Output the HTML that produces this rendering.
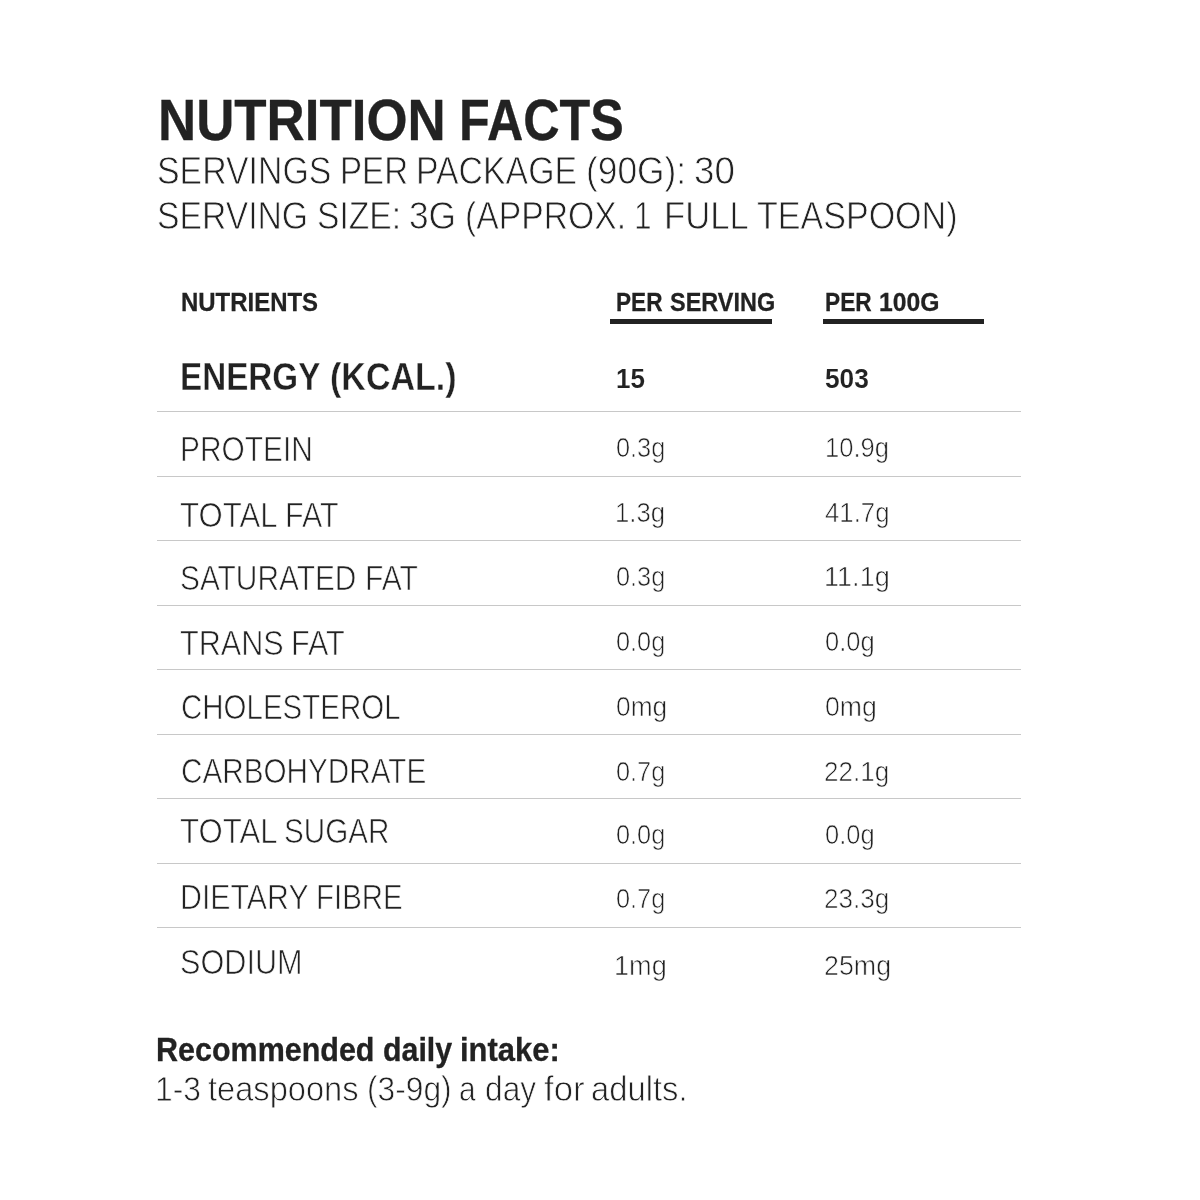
<!DOCTYPE html>
<html lang="en">
<head>
<meta charset="utf-8">
<title>Nutrition Facts</title>
<style>
html,body{margin:0;padding:0;background:#fff;}
body{width:1200px;height:1200px;position:relative;overflow:hidden;font-family:"Liberation Sans",sans-serif;color:#222222;}
.t{position:absolute;left:0;margin:0;padding:0;font-weight:400;white-space:nowrap;}
.t span{position:absolute;top:0;transform-origin:0 0;}
.b{font-weight:700;}
.sub{-webkit-text-stroke:0.83px #fff;}
.n{-webkit-text-stroke:0.74px #fff;}
.v{-webkit-text-stroke:0.66px #fff;}
.fn{-webkit-text-stroke:0.76px #fff;}
.energy{-webkit-text-stroke:0.41px #fff;}
.title{-webkit-text-stroke:0.30px #222222;}
.th{-webkit-text-stroke:0.27px #222222;}
.ev{-webkit-text-stroke:0.10px #fff;}
.fb{-webkit-text-stroke:0.30px #222222;}
.rule{position:absolute;left:157px;width:864px;height:1px;background:#c8c8c8;}
.bar{position:absolute;top:319px;height:5px;background:#222222;}
</style>
</head>
<body>
<header class="head">
<h1 class="t title b" style="top:93.07px;font-size:56.88px;line-height:56.88px"><span style="left:157.52px;transform:scaleX(0.9292)">NUTRITION</span> <span style="left:459.00px;transform:scaleX(0.8838)">FACTS</span></h1>
<p class="t sub" style="top:150.55px;font-size:39.60px;line-height:39.60px"><span style="left:156.95px;transform:scaleX(0.8550)">SERVINGS</span> <span style="left:339.71px;transform:scaleX(0.8370)">PER</span> <span style="left:416.37px;transform:scaleX(0.8546)">PACKAGE</span> <span style="left:585.99px;transform:scaleX(0.8921)">(90G):</span> <span style="left:694.04px;transform:scaleX(0.9276)">30</span></p>
<p class="t sub" style="top:196.35px;font-size:39.60px;line-height:39.60px"><span style="left:157.03px;transform:scaleX(0.8515)">SERVING</span> <span style="left:317.42px;transform:scaleX(0.8492)">SIZE:</span> <span style="left:409.26px;transform:scaleX(0.8913)">3G</span> <span style="left:464.90px;transform:scaleX(0.8516)">(APPROX.</span> <span style="left:633.60px;transform:scaleX(0.7967)">1</span> <span style="left:664.31px;transform:scaleX(0.8758)">FULL</span> <span style="left:757.32px;transform:scaleX(0.8602)">TEASPOON)</span></p>
</header>
<section class="table">
<div class="row thead">
<div class="t th b" style="top:289.08px;font-size:26.10px;line-height:26.10px"><span style="left:180.66px;transform:scaleX(0.9182)">NUTRIENTS</span></div>
<div class="t th b" style="top:289.08px;font-size:26.10px;line-height:26.10px"><span style="left:615.76px;transform:scaleX(0.8665)">PER</span> <span style="left:669.69px;transform:scaleX(0.8989)">SERVING</span></div>
<div class="t th b" style="top:289.08px;font-size:26.10px;line-height:26.10px"><span style="left:824.77px;transform:scaleX(0.8692)">PER</span> <span style="left:878.70px;transform:scaleX(0.9477)">100G</span></div>
<div class="bar" style="left:610px;width:161.5px"></div>
<div class="bar" style="left:822.5px;width:161.5px"></div>
</div>
<div class="row energy-row">
<div class="t energy b" style="top:357.85px;font-size:38.91px;line-height:38.91px"><span style="left:180.13px;transform:scaleX(0.8539)">ENERGY</span> <span style="left:330.12px;transform:scaleX(0.8746)">(KCAL.)</span></div>
<div class="t ev b" style="top:364.65px;font-size:27.17px;line-height:27.17px"><span style="left:616.02px;transform:scaleX(0.9567)">15</span></div>
<div class="t ev b" style="top:364.65px;font-size:27.17px;line-height:27.17px"><span style="left:825.05px;transform:scaleX(0.9676)">503</span></div>
</div>
<div class="row">
<div class="rule" style="top:411px"></div>
<div class="t n" style="top:432.17px;font-size:34.69px;line-height:34.69px"><span style="left:180.45px;transform:scaleX(0.8614)">PROTEIN</span></div>
<div class="t v" style="top:433.23px;font-size:28.19px;line-height:28.19px"><span style="left:615.70px;transform:scaleX(0.8984)">0.3g</span></div>
<div class="t v" style="top:433.23px;font-size:28.19px;line-height:28.19px"><span style="left:825.33px;transform:scaleX(0.9062)">10.9g</span></div>
</div>
<div class="row">
<div class="rule" style="top:476px"></div>
<div class="t n" style="top:498.27px;font-size:34.69px;line-height:34.69px"><span style="left:179.65px;transform:scaleX(0.8985)">TOTAL</span> <span style="left:284.79px;transform:scaleX(0.8770)">FAT</span></div>
<div class="t v" style="top:498.03px;font-size:28.19px;line-height:28.19px"><span style="left:614.78px;transform:scaleX(0.9108)">1.3g</span></div>
<div class="t v" style="top:498.03px;font-size:28.19px;line-height:28.19px"><span style="left:825.48px;transform:scaleX(0.9141)">41.7g</span></div>
</div>
<div class="row">
<div class="rule" style="top:540px"></div>
<div class="t n" style="top:561.37px;font-size:34.69px;line-height:34.69px"><span style="left:179.70px;transform:scaleX(0.8610)">SATURATED</span> <span style="left:365.31px;transform:scaleX(0.8684)">FAT</span></div>
<div class="t v" style="top:561.63px;font-size:28.19px;line-height:28.19px"><span style="left:615.70px;transform:scaleX(0.8984)">0.3g</span></div>
<div class="t v" style="top:561.63px;font-size:28.19px;line-height:28.19px"><span style="left:824.02px;transform:scaleX(0.9610)">11.1g</span></div>
</div>
<div class="row">
<div class="rule" style="top:605px"></div>
<div class="t n" style="top:625.57px;font-size:34.69px;line-height:34.69px"><span style="left:179.66px;transform:scaleX(0.8831)">TRANS</span> <span style="left:291.46px;transform:scaleX(0.8818)">FAT</span></div>
<div class="t v" style="top:627.23px;font-size:28.19px;line-height:28.19px"><span style="left:615.70px;transform:scaleX(0.8984)">0.0g</span></div>
<div class="t v" style="top:627.23px;font-size:28.19px;line-height:28.19px"><span style="left:825.31px;transform:scaleX(0.9046)">0.0g</span></div>
</div>
<div class="row">
<div class="rule" style="top:669px"></div>
<div class="t n" style="top:689.77px;font-size:34.69px;line-height:34.69px"><span style="left:180.91px;transform:scaleX(0.8507)">CHOLESTEROL</span></div>
<div class="t v" style="top:692.03px;font-size:28.19px;line-height:28.19px"><span style="left:615.74px;transform:scaleX(0.9331)">0mg</span></div>
<div class="t v" style="top:692.03px;font-size:28.19px;line-height:28.19px"><span style="left:825.27px;transform:scaleX(0.9453)">0mg</span></div>
</div>
<div class="row">
<div class="rule" style="top:734px"></div>
<div class="t n" style="top:753.57px;font-size:34.69px;line-height:34.69px"><span style="left:180.95px;transform:scaleX(0.8564)">CARBOHYDRATE</span></div>
<div class="t v" style="top:757.33px;font-size:28.19px;line-height:28.19px"><span style="left:615.70px;transform:scaleX(0.8984)">0.7g</span></div>
<div class="t v" style="top:757.33px;font-size:28.19px;line-height:28.19px"><span style="left:824.05px;transform:scaleX(0.9234)">22.1g</span></div>
</div>
<div class="row">
<div class="rule" style="top:798px"></div>
<div class="t n" style="top:813.97px;font-size:34.69px;line-height:34.69px"><span style="left:179.66px;transform:scaleX(0.8981)">TOTAL</span> <span style="left:283.97px;transform:scaleX(0.8545)">SUGAR</span></div>
<div class="t v" style="top:819.83px;font-size:28.19px;line-height:28.19px"><span style="left:615.70px;transform:scaleX(0.8984)">0.0g</span></div>
<div class="t v" style="top:819.83px;font-size:28.19px;line-height:28.19px"><span style="left:825.31px;transform:scaleX(0.9046)">0.0g</span></div>
</div>
<div class="row">
<div class="rule" style="top:863px"></div>
<div class="t n" style="top:879.77px;font-size:34.69px;line-height:34.69px"><span style="left:180.25px;transform:scaleX(0.8746)">DIETARY</span> <span style="left:315.60px;transform:scaleX(0.8485)">FIBRE</span></div>
<div class="t v" style="top:883.73px;font-size:28.19px;line-height:28.19px"><span style="left:615.70px;transform:scaleX(0.8984)">0.7g</span></div>
<div class="t v" style="top:883.73px;font-size:28.19px;line-height:28.19px"><span style="left:824.05px;transform:scaleX(0.9234)">23.3g</span></div>
</div>
<div class="row">
<div class="rule" style="top:927px"></div>
<div class="t n" style="top:944.77px;font-size:34.69px;line-height:34.69px"><span style="left:179.67px;transform:scaleX(0.8838)">SODIUM</span></div>
<div class="t v" style="top:951.33px;font-size:28.19px;line-height:28.19px"><span style="left:614.16px;transform:scaleX(0.9620)">1mg</span></div>
<div class="t v" style="top:951.33px;font-size:28.19px;line-height:28.19px"><span style="left:823.97px;transform:scaleX(0.9516)">25mg</span></div>
</div>
</section>
<footer class="foot">
<p class="t fb b" style="top:1034.34px;font-size:32.75px;line-height:32.75px"><span style="left:156.30px;transform:scaleX(0.9306)">Recommended</span> <span style="left:383.19px;transform:scaleX(0.9264)">daily</span> <span style="left:459.77px;transform:scaleX(0.9447)">intake:</span></p>
<p class="t fn" style="top:1071.80px;font-size:34.43px;line-height:34.43px"><span style="left:155.25px;transform:scaleX(0.9220)">1-3</span> <span style="left:207.98px;transform:scaleX(0.9476)">teaspoons</span> <span style="left:366.64px;transform:scaleX(0.9214)">(3-9g)</span> <span style="left:459.31px;transform:scaleX(0.8684)">a</span> <span style="left:485.35px;transform:scaleX(0.9212)">day</span> <span style="left:544.01px;transform:scaleX(1.0101)">for</span> <span style="left:591.33px;transform:scaleX(0.9518)">adults.</span></p>
</footer>
</body>
</html>
